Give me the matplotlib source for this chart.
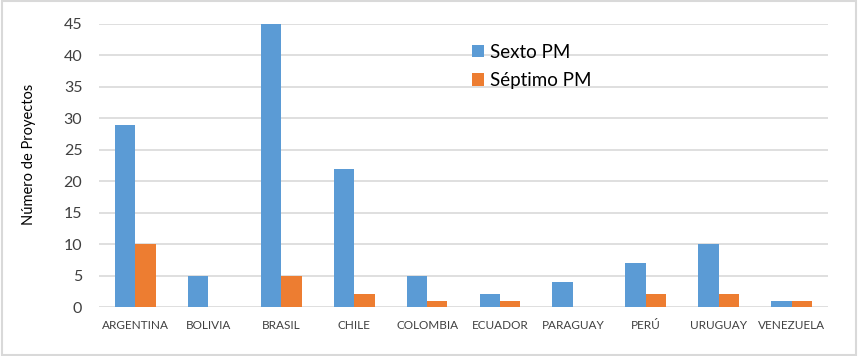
import numpy as np
import matplotlib.pyplot as plt

paises = ["ARGENTINA", "BOLIVIA", "BRASIL", "CHILE", "COLOMBIA",
          "ECUADOR", "PARAGUAY", "PERÚ", "URUGUAY", "VENEZUELA"]
sexto_pm = [29, 5, 45, 22, 5, 2, 4, 7, 10, 1]
septimo_pm = [10, 0, 5, 2, 1, 1, 0, 2, 2, 1]

plt.rcParams['font.family'] = ['Lato', 'DejaVu Sans']

fig = plt.figure(figsize=(8.58, 3.56), dpi=100)
ax = fig.add_axes([0.1154, 0.1376, 0.8497, 0.795])

x = np.arange(len(paises))
w = 0.28
ax.bar(x - w / 2, sexto_pm, w, color="#5B9BD5", label="Sexto PM", zorder=2)
ax.bar(x + w / 2, septimo_pm, w, color="#ED7D31", label="Séptimo PM", zorder=2)

ax.set_xlim(-0.5, len(paises) - 0.5)
ax.set_ylim(0, 45)
ax.set_yticks(np.arange(0, 46, 5))
ax.set_xticks(x)
ax.set_xticklabels(paises, fontsize=8.5, color="#404040")
ax.tick_params(axis="y", labelsize=11.5, colors="#404040", length=0, pad=12)
ax.tick_params(axis="x", length=0, pad=9)
ax.grid(axis="y", color="#D9D9D9", linewidth=1.2, zorder=0)
ax.set_axisbelow(True)
for s in ax.spines.values():
    s.set_visible(False)
ax.set_ylabel("Número de Proyectos", fontsize=10.5, color="#000000")
ax.yaxis.set_label_coords(-0.087, 0.54)

ax.legend(loc="upper left", bbox_to_anchor=(0.488, 0.99), frameon=False,
          fontsize=13.5, handlelength=0.65, handleheight=0.65,
          handletextpad=0.35, labelspacing=0.6)

# marco gris alrededor de la figura
fig.patches.append(plt.Rectangle((0.002, 0.003), 0.996, 0.994, transform=fig.transFigure,
                                 fill=False, edgecolor="#D9D9D9", linewidth=1.5))

fig.savefig("out.png", dpi=100)
